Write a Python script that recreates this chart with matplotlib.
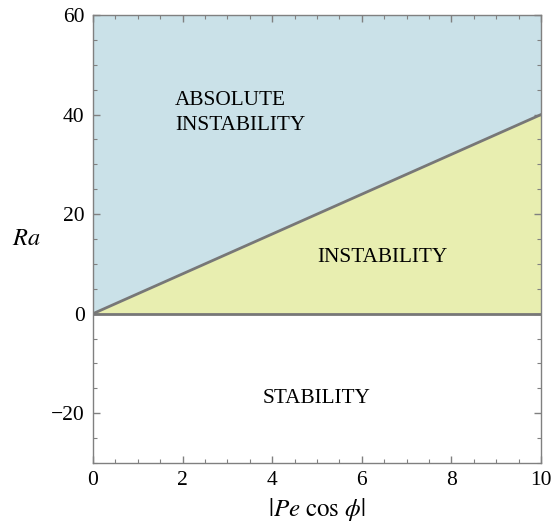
import matplotlib.pyplot as plt
import numpy as np
from matplotlib.ticker import MultipleLocator

# boundary Ra = 4 |Pe cos phi|
pe = [0, 10]
ra_line = [0, 40]
x_lim = [0, 10]
y_lim = [-30, 60]

plt.rcParams['font.family'] = ['Liberation Serif', 'DejaVu Serif']
plt.rcParams['mathtext.fontset'] = 'stix'

fig = plt.figure(figsize=(5.51, 5.25), dpi=100)
ax = fig.add_axes([0.1688, 0.1181, 0.8131, 0.8533])

edge = '#808080'
ax.fill_between(pe, ra_line, [y_lim[1], y_lim[1]], color='#cae1e8', lw=0)
ax.fill_between(pe, [0, 0], ra_line, color='#e8eeb0', lw=0)
ax.plot(pe, ra_line, color='#777777', lw=2)
ax.plot(pe, [0, 0], color='#777777', lw=2)

fs = 15.3
ax.text(1.83, 41.9, 'ABSOLUTE', fontsize=fs, ha='left', va='baseline')
ax.text(1.83, 36.9, 'INSTABILITY', fontsize=fs, ha='left', va='baseline')
ax.text(6.46, 10.4, 'INSTABILITY', fontsize=fs, ha='center', va='baseline')
ax.text(4.99, -17.9, 'STABILITY', fontsize=fs, ha='center', va='baseline')

ax.set_xlim(x_lim)
ax.set_ylim(y_lim)
ax.xaxis.set_major_locator(MultipleLocator(2))
ax.xaxis.set_minor_locator(MultipleLocator(0.5))
ax.yaxis.set_major_locator(MultipleLocator(20))
ax.yaxis.set_minor_locator(MultipleLocator(5))
ax.tick_params(which='both', direction='in', top=True, right=True, color=edge, labelsize=15.5)
ax.tick_params(which='major', length=5, width=1, pad=6)
ax.tick_params(which='minor', length=3, width=0.8)
for s in ax.spines.values():
    s.set_color(edge)
    s.set_linewidth(1)

ax.set_xlabel(r'$|Pe\ \mathrm{cos}\ \phi|$', fontsize=18, labelpad=4)
ax.set_ylabel(r'$Ra$', fontsize=17.5, rotation=0, labelpad=18, va='center')

fig.savefig('out.png', dpi=100)
